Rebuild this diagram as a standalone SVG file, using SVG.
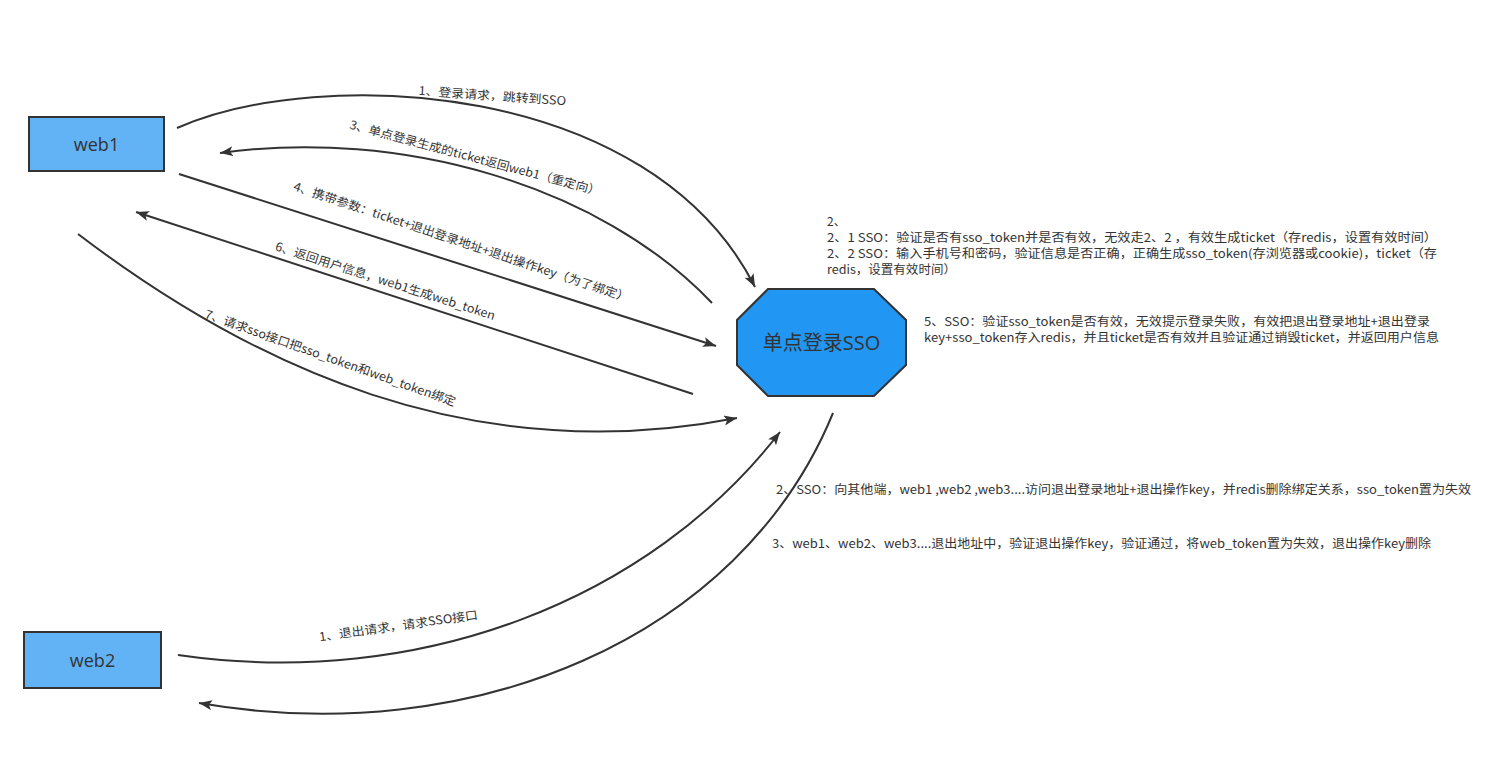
<svg xmlns="http://www.w3.org/2000/svg" width="1507" height="769" viewBox="0 0 1507 769">
<style>
.box{fill:#62B3F5;stroke:#333;stroke-width:2}
.oct{fill:#2196F3;stroke:#333;stroke-width:2}
.node{font-family:"Open Sans","Noto Sans","Noto Sans CJK SC",sans-serif;fill:#333;text-anchor:middle}
.edge{fill:none;stroke:#333;stroke-width:2}
.lbl{font-family:"Noto Sans CJK SC",sans-serif;font-size:12px;fill:#333;text-anchor:middle}
.note{font-family:"Noto Sans CJK SC",sans-serif;font-size:12px;fill:#333}
</style>
<defs>
<marker id="arr" markerUnits="userSpaceOnUse" markerWidth="16" markerHeight="12" refX="13" refY="5" orient="auto" viewBox="0 0 16 12">
<path d="M0,0 L13,5 L0,10 L3,5 z" fill="#333"/>
</marker>
</defs>
<rect width="1507" height="769" fill="#fff"/>
<g id="connectors">
<path class="edge" d="M177,128 C320,65 650,80 755,287" marker-end="url(#arr)"/>
<path class="edge" d="M712,303 C600,185 400,128 220,153" marker-end="url(#arr)"/>
<path class="edge" d="M179,174 L716,346" marker-end="url(#arr)"/>
<path class="edge" d="M693,394 L136,212" marker-end="url(#arr)"/>
<path class="edge" d="M78,234 C250,365 470,470 737,418" marker-end="url(#arr)"/>
<path class="edge" d="M178,655 C420,690 650,600 780,432" marker-end="url(#arr)"/>
<path class="edge" d="M833,413 C740,640 470,750 199,703" marker-end="url(#arr)"/>
</g>
<g id="edge-labels">
<text class="lbl" transform="translate(492,100) rotate(4)" textLength="148" lengthAdjust="spacingAndGlyphs">1、登录请求，跳转到SSO</text>
<text class="lbl" transform="translate(474,162) rotate(15)" textLength="259" lengthAdjust="spacingAndGlyphs">3、单点登录生成的ticket返回web1（重定向）</text>
<text class="lbl" transform="translate(460,246) rotate(18.5)" textLength="353" lengthAdjust="spacingAndGlyphs">4、携带参数：ticket+退出登录地址+退出操作key（为了绑定）</text>
<text class="lbl" transform="translate(384,285) rotate(17.7)" textLength="230" lengthAdjust="spacingAndGlyphs">6、返回用户信息，web1生成web_token</text>
<text class="lbl" transform="translate(329,362) rotate(19.5)" textLength="265" lengthAdjust="spacingAndGlyphs">7、请求sso接口把sso_token和web_token绑定</text>
<text class="lbl" transform="translate(399,630) rotate(-8)" textLength="160" lengthAdjust="spacingAndGlyphs">1、退出请求，请求SSO接口</text>
</g>
<g id="web1">
<rect class="box" x="29" y="117" width="135" height="54"/>
<text class="node" x="96.5" y="151" font-size="18">web1</text>
</g>
<g id="web2">
<rect class="box" x="24" y="632" width="137" height="56"/>
<text class="node" x="92.5" y="667" font-size="18">web2</text>
</g>
<g id="sso">
<polygon class="oct" points="768,289 874,289 906,320 906,365 874,396 768,396 737,365 737,320"/>
<text class="node" x="821.5" y="350" font-size="20" font-family="Noto Sans CJK SC, sans-serif">单点登录SSO</text>
</g>
<g id="note-2">
<text class="note" x="827" y="226">2、</text>
<text class="note" x="827" y="242" textLength="610" lengthAdjust="spacingAndGlyphs">2、1  SSO：验证是否有sso_token并是否有效，无效走2、2 ，有效生成ticket（存redis，设置有效时间）</text>
<text class="note" x="827" y="258" textLength="610" lengthAdjust="spacingAndGlyphs">2、2  SSO：输入手机号和密码，验证信息是否正确，正确生成sso_token(存浏览器或cookie)，ticket（存</text>
<text class="note" x="827" y="274" textLength="129" lengthAdjust="spacingAndGlyphs">redis，设置有效时间）</text>
</g>
<g id="note-5">
<text class="note" x="924" y="326" textLength="506" lengthAdjust="spacingAndGlyphs">5、SSO：验证sso_token是否有效，无效提示登录失败，有效把退出登录地址+退出登录</text>
<text class="note" x="924" y="342" textLength="515" lengthAdjust="spacingAndGlyphs">key+sso_token存入redis，并且ticket是否有效并且验证通过销毁ticket，并返回用户信息</text>
</g>
<g id="note-logout-2">
<text class="note" x="776" y="494" textLength="695" lengthAdjust="spacingAndGlyphs">2、SSO：向其他端，web1 ,web2 ,web3....访问退出登录地址+退出操作key，并redis删除绑定关系，sso_token置为失效</text>
</g>
<g id="note-logout-3">
<text class="note" x="772" y="548" textLength="659" lengthAdjust="spacingAndGlyphs">3、web1、web2、web3....退出地址中，验证退出操作key，验证通过，将web_token置为失效，退出操作key删除</text>
</g>
</svg>
